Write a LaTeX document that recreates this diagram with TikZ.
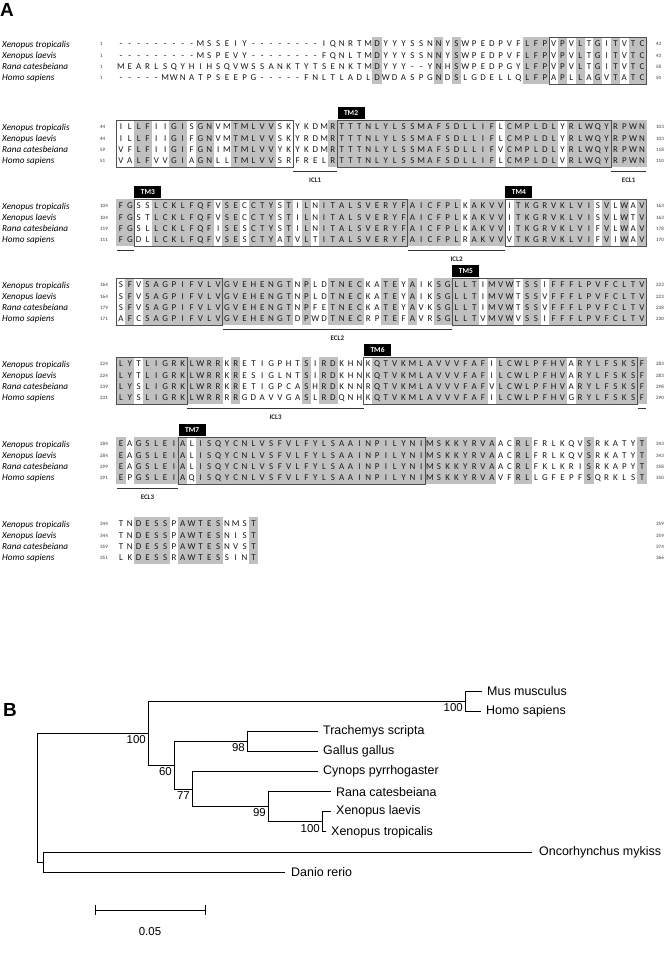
\documentclass[tikz,border=0pt]{standalone}
\usepackage{fontspec}
\setmainfont{Carlito}
\newfontfamily\arialfont{Liberation Sans}
\usetikzlibrary{calc}
\definecolor{alnshade}{RGB}{192,192,192}
\definecolor{boxgray}{RGB}{80,80,80}
\definecolor{restext}{RGB}{25,25,25}
\tikzset{
 res/.style={inner sep=0pt, anchor=base, font=\fontsize{9}{10}\selectfont, text=restext},
 spname/.style={inner sep=0pt, anchor=base west, font=\fontsize{9.2}{10}\selectfont\itshape, text=black},
 numlab/.style={inner sep=0pt, anchor=base west, font=\fontsize{5}{6}\selectfont, text=black!80},
 tmbox/.style={draw=boxgray, line width=1bp},
 tmtab/.style={fill=black, text=white, inner sep=0pt, minimum width=27bp, minimum height=12bp, font=\fontsize{7.5}{8}\selectfont\bfseries, anchor=south west},
 loopline/.style={draw=black!80, line width=0.9bp},
 looplab/.style={inner sep=0pt, font=\fontsize{7}{8}\selectfont\bfseries, text=black!85},
 branch/.style={draw=black, line width=0.8bp},
 tiplab/.style={inner sep=0pt, anchor=west, font=\arialfont\fontsize{12.5}{14}\selectfont},
 bootlab/.style={inner sep=0pt, font=\arialfont\fontsize{11.5}{13}\selectfont},
 panel/.style={inner sep=0pt, anchor=north west, font=\arialfont\bfseries\fontsize{19}{20}\selectfont},
}
\newcommand\colx[1]{(121+(#1-1)*8.83)}
\newcommand\ResCol[7]{%
 \node[res] (r#1-#2-a) at ({\colx{#2}},{#3+2.9}) {#4};
 \node[res] (r#1-#2-b) at ({\colx{#2}},{#3+11.3+2.9}) {#5};
 \node[res] (r#1-#2-c) at ({\colx{#2}},{#3+22.6+2.9}) {#6};
 \node[res] (r#1-#2-d) at ({\colx{#2}},{#3+33.9+2.9}) {#7};
}
\newcommand\ShadeCol[2]{\fill[alnshade] ({\colx{#1}-4.6},{#2-7}) rectangle ({\colx{#1}+4.6},{#2+40});}
\newcommand\TMBox[3]{\draw[tmbox] ({\colx{#2}-4.41},{#1-7}) rectangle ({\colx{#3}+4.41},{#1+40});}
\newcommand\TMTab[3]{\node[tmtab] (tab#3) at ({\colx{#2}-4.41},{#1-7.4}) {#3};}
\newcommand\LoopLine[5]{%
 \coordinate (#1-s) at ({\colx{#3}-4.41},{#2+44});
 \coordinate (#1-e) at ({\colx{#4}+4.41},{#2+44});
 \draw[loopline] (#1-s) -- (#1-e);
 \ifx\relax#5\relax\else\node[looplab] (#1-lab) at ($(#1-s)!0.5!(#1-e)+(0,9)$) {#5};\fi
}
\newcommand\SpLabels[2]{%
 \node[spname] (sp#1a) at (2,{#2+3}) {Xenopus tropicalis};
 \node[spname] (sp#1b) at (2,{#2+11.3+3}) {Xenopus laevis};
 \node[spname] (sp#1c) at (2,{#2+22.6+3}) {Rana catesbeiana};
 \node[spname] (sp#1d) at (2,{#2+33.9+3}) {Homo sapiens};
}
\newcommand\NumCol[7]{%
 \node[numlab] (#1a) at (#2,{#3+1.7}) {#4};
 \node[numlab] (#1b) at (#2,{#3+11.3+1.7}) {#5};
 \node[numlab] (#1c) at (#2,{#3+22.6+1.7}) {#6};
 \node[numlab] (#1d) at (#2,{#3+33.9+1.7}) {#7};
}
\ExplSyntaxOn
\str_new:N \l__aln_a_str
\str_new:N \l__aln_b_str
\str_new:N \l__aln_c_str
\str_new:N \l__aln_d_str
\tl_new:N \l__aln_ca_tl
\tl_new:N \l__aln_cb_tl
\tl_new:N \l__aln_cc_tl
\tl_new:N \l__aln_cd_tl
\NewDocumentCommand \AlnBlock { m m m m m m }
  {
    \str_set:Nn \l__aln_a_str {#3}
    \str_set:Nn \l__aln_b_str {#4}
    \str_set:Nn \l__aln_c_str {#5}
    \str_set:Nn \l__aln_d_str {#6}
    \int_step_inline:nn { \str_count:N \l__aln_a_str }
      {
        \tl_set:Nx \l__aln_ca_tl { \str_item:Nn \l__aln_a_str {##1} }
        \tl_set:Nx \l__aln_cb_tl { \str_item:Nn \l__aln_b_str {##1} }
        \tl_set:Nx \l__aln_cc_tl { \str_item:Nn \l__aln_c_str {##1} }
        \tl_set:Nx \l__aln_cd_tl { \str_item:Nn \l__aln_d_str {##1} }
        \str_if_eq:VVT \l__aln_ca_tl \l__aln_cb_tl
          {
            \str_if_eq:VVT \l__aln_ca_tl \l__aln_cc_tl
              {
                \str_if_eq:VVT \l__aln_ca_tl \l__aln_cd_tl
                  {
                    \str_if_eq:VnF \l__aln_ca_tl { - }
                      { \ShadeCol {##1} {#2} }
                  }
              }
          }
        \use:x
          {
            \exp_not:N \ResCol {#1} {##1} {#2}
              { \l__aln_ca_tl } { \l__aln_cb_tl } { \l__aln_cc_tl } { \l__aln_cd_tl }
          }
      }
  }
\ExplSyntaxOff
\begin{document}
\begin{tikzpicture}[x=1bp,y=-1bp]
\useasboundingbox (0,0) rectangle (667,964);
\fill[white] (0,0) rectangle (667,964);
\node[panel] (panelA) at (0,3) {A};
% ---------- block 1
\AlnBlock{1}{44}{---------MSSEIY--------IQNRTMDYYYSSNNYSWPEDPVFLFPVPVLTGITVTC}{---------MSPEVY--------FQNLTMDYYYSSNNYSWPEDPVFLFPVPVLTGITVTC}{MEARLSQYHIHSQVWSSANKTYTSENKTMDYYY--YNHSWPEDPGYLFPVPVLTGITVTC}{-----MWNATPSEEPG-----FNLTLADLDWDASPGNDSLGDELLQLFPAPLLAGVTATC}
\TMBox{44}{50}{60}
\SpLabels{1}{44}
\NumCol{s1}{100}{44}{1}{1}{1}{1}
\NumCol{e1}{656}{44}{43}{43}{58}{50}
% ---------- block 2
\AlnBlock{2}{127}{ILLFIIGISGNVMTMLVVSKYKDMRTTTNLYLSSMAFSDLLIFLCMPLDLYRLWQYRPWN}{ILLFIIGIFGNVMTMLVVSKYRDMRTTTNLYLSSMAFSDLLIFLCMPLDLYRLWQYRPWN}{VFLFIIGIFGNIMTMLVVYKYKDMRTTTNLYLSSMAFSDLLIFVCMPLDLYRLWQYRPWN}{VALFVVGIAGNLLTMLVVSRFRELRTTTNLYLSSMAFSDLLIFLCMPLDLVRLWQYRPWN}
\TMBox{127}{1}{20}
\TMBox{127}{26}{56}
\TMTab{127}{26}{TM2}
\LoopLine{icl1}{127}{21}{25}{ICL1}
\LoopLine{ecl1a}{127}{57}{60}{ECL1}
\SpLabels{2}{127}
\NumCol{s2}{100}{127}{44}{44}{59}{51}
\NumCol{e2}{656}{127}{103}{103}{118}{110}
% ---------- block 3
\AlnBlock{3}{206}{FGSSLCKLFQFVSECCTYSTILNITALSVERYFAICFPLKAKVVITKGRVKLVISVLWAV}{FGSTLCKLFQFVSECCTYSTILNITALSVERYFAICFPLKAKVVITKGRVKLVISVLWTV}{FGSLLCKLFQFISESCTYSTILNITALSVERYFAICFPLKAKVVITKGRVKLVIFVLWAV}{FGDLLCKLFQFVSESCTYATVLTITALSVERYFAICFPLRAKVVVTKGRVKLVIFVIWAV}
\TMBox{206}{3}{33}
\TMBox{206}{45}{60}
\TMTab{206}{3}{TM3}
\TMTab{206}{45}{TM4}
\LoopLine{ecl1b}{206}{1}{2}{}
\LoopLine{icl2}{206}{34}{44}{ICL2}
\SpLabels{3}{206}
\NumCol{s3}{100}{206}{104}{104}{119}{111}
\NumCol{e3}{656}{206}{163}{163}{178}{170}
% ---------- block 4
\AlnBlock{4}{285}{SFVSAGPIFVLVGVEHENGTNPLDTNECKATEYAIKSGLLTIMVWTSSIFFFLPVFCLTV}{SFVSAGPIFVLVGVEHENGTNPLDTNECKATEYAIKSGLLTIMVWTSSVFFFLPVFCLTV}{SFVSAGPIFVLVGVEHENGTNPFETNECKATEYAVKSGLLTIMVWTSSVFFFLPVFCLTV}{AFCSAGPIFVLVGVEHENGTDPWDTNECRPTEFAVRSGLLTVMVWVSSIFFFLPVFCLTV}
\TMBox{285}{1}{12}
\TMBox{285}{39}{60}
\TMTab{285}{39}{TM5}
\LoopLine{ecl2}{285}{13}{38}{ECL2}
\SpLabels{4}{285}
\NumCol{s4}{100}{285}{164}{164}{179}{171}
\NumCol{e4}{656}{285}{223}{223}{238}{230}
% ---------- block 5
\AlnBlock{5}{364}{LYTLIGRKLWRRKRETIGPHTSIRDKHNKQTVKMLAVVVFAFILCWLPFHVARYLFSKSF}{LYTLIGRKLWRRKRESIGLNTSIRDKHNKQTVKMLAVVVFAFILCWLPFHVARYLFSKSF}{LYSLIGRKLWRRKRETIGPCASHRDKNNRQTVKMLAVVVFAFVLCWLPFHVARYLFSKSF}{LYSLIGRKLWRRRRGDAVVGASLRDQNHKQTVKMLAVVVFAFILCWLPFHVGRYLFSKSF}
\TMBox{364}{1}{8}
\TMBox{364}{29}{59}
\TMTab{364}{29}{TM6}
\LoopLine{icl3}{364}{9}{28}{ICL3}
\LoopLine{ecl3a}{364}{60}{60}{}
\SpLabels{5}{364}
\NumCol{s5}{100}{364}{224}{224}{239}{231}
\NumCol{e5}{656}{364}{283}{283}{298}{290}
% ---------- block 6
\AlnBlock{6}{444}{EAGSLEIALISQYCNLVSFVLFYLSAAINPILYNIMSKKYRVAACRLFRLKQVSRKATYT}{EAGSLEIALISQYCNLVSFVLFYLSAAINPILYNIMSKKYRVAACRLFRLKQVSRKATYT}{EAGSLEIALISQYCNLVSFVLFYLSAAINPILYNIMSKKYRVAACRLFKLKRISRKAPYT}{EPGSLEIAQISQYCNLVSFVLFYLSAAINPILYNIMSKKYRVAVFRLLGFEPFSQRKLST}
\TMBox{444}{8}{35}
\TMTab{444}{8}{TM7}
\LoopLine{ecl3b}{444}{1}{7}{ECL3}
\SpLabels{6}{444}
\NumCol{s6}{100}{444}{284}{284}{299}{291}
\NumCol{e6}{656}{444}{343}{343}{358}{350}
% ---------- block 7
\AlnBlock{7}{524}{TNDESSPAWTESNMST}{TNDESSPAWTESNIST}{TNDESSPAWTESNVST}{LKDESSRAWTESSINT}
\SpLabels{7}{524}
\NumCol{s7}{100}{524}{344}{344}{359}{351}
\NumCol{e7}{656}{524}{359}{359}{374}{366}
% ================= tree
\node[panel] (panelB) at (3,703) {B};
% tips (evenly spaced)
\coordinate (tMus) at (482,691);
\coordinate (tHomo) at (481,711.1);
\coordinate (tTra) at (318,731.2);
\coordinate (tGal) at (318,751.3);
\coordinate (tCyn) at (318,771.4);
\coordinate (tRana) at (331,791.6);
\coordinate (tXl) at (331,811.7);
\coordinate (tXt) at (326,831.8);
\coordinate (tOnc) at (532,851.9);
\coordinate (tDan) at (285,872);
% internal nodes
\coordinate (nM) at (465,701);
\coordinate (nX) at (322,821.8);
\coordinate (n99) at (268,806.7);
\coordinate (n77) at (192,789);
\coordinate (n98) at (247,741.3);
\coordinate (n60) at (174,765.2);
\coordinate (nA) at (148,733.1);
\coordinate (nF) at (43,862);
\coordinate (nR) at (37,797.6);
\draw[branch] (nR) |- (nA);
\draw[branch] (nR) |- (nF);
\draw[branch] (nA) |- (nM);
\draw[branch] (nA) |- (n60);
\draw[branch] (nM) |- (tMus);
\draw[branch] (nM) |- (tHomo);
\draw[branch] (n60) |- (n98);
\draw[branch] (n60) |- (n77);
\draw[branch] (n98) |- (tTra);
\draw[branch] (n98) |- (tGal);
\draw[branch] (n77) |- (tCyn);
\draw[branch] (n77) |- (n99);
\draw[branch] (n99) |- (tRana);
\draw[branch] (n99) |- (nX);
\draw[branch] (nX) |- (tXl);
\draw[branch] (nX) |- (tXt);
\draw[branch] (nF) |- (tOnc);
\draw[branch] (nF) |- (tDan);
\node[tiplab] (lMus) at ($(tMus)+(5,0)$) {Mus musculus};
\node[tiplab] (lHomo) at ($(tHomo)+(5,0)$) {Homo sapiens};
\node[tiplab] (lTra) at ($(tTra)+(5,0)$) {Trachemys scripta};
\node[tiplab] (lGal) at ($(tGal)+(5,0)$) {Gallus gallus};
\node[tiplab] (lCyn) at ($(tCyn)+(5,0)$) {Cynops pyrrhogaster};
\node[tiplab] (lRana) at ($(tRana)+(5,0)$) {Rana catesbeiana};
\node[tiplab] (lXl) at ($(tXl)+(5,0)$) {Xenopus laevis};
\node[tiplab] (lXt) at ($(tXt)+(5,0)$) {Xenopus tropicalis};
\node[tiplab] (lOnc) at ($(tOnc)+(7,0)$) {Oncorhynchus mykiss};
\node[tiplab] (lDan) at ($(tDan)+(6,0)$) {Danio rerio};
\node[bootlab, anchor=north east] (bA) at ($(nA)+(-2,2)$) {100};
\node[bootlab, anchor=north east] (bM) at ($(nM)+(-2,2)$) {100};
\node[bootlab, anchor=north east] (b60) at ($(n60)+(-2,2)$) {60};
\node[bootlab, anchor=north east] (b98) at ($(n98)+(-2,2)$) {98};
\node[bootlab, anchor=north east] (b77) at ($(n77)+(-2,2)$) {77};
\node[bootlab, anchor=north east] (b99) at ($(n99)+(-2,2)$) {99};
\node[bootlab, anchor=north east] (bX) at ($(nX)+(-2,2)$) {100};
\coordinate (sb1) at (95,910);
\coordinate (sb2) at (205,910);
\draw[branch] (sb1) -- (sb2);
\draw[branch] ($(sb1)+(0,-5)$) -- ($(sb1)+(0,5)$);
\draw[branch] ($(sb2)+(0,-5)$) -- ($(sb2)+(0,5)$);
\node[bootlab] (sblab) at ($(sb1)!0.5!(sb2)+(0,22)$) {0.05};
\end{tikzpicture}
\end{document}
